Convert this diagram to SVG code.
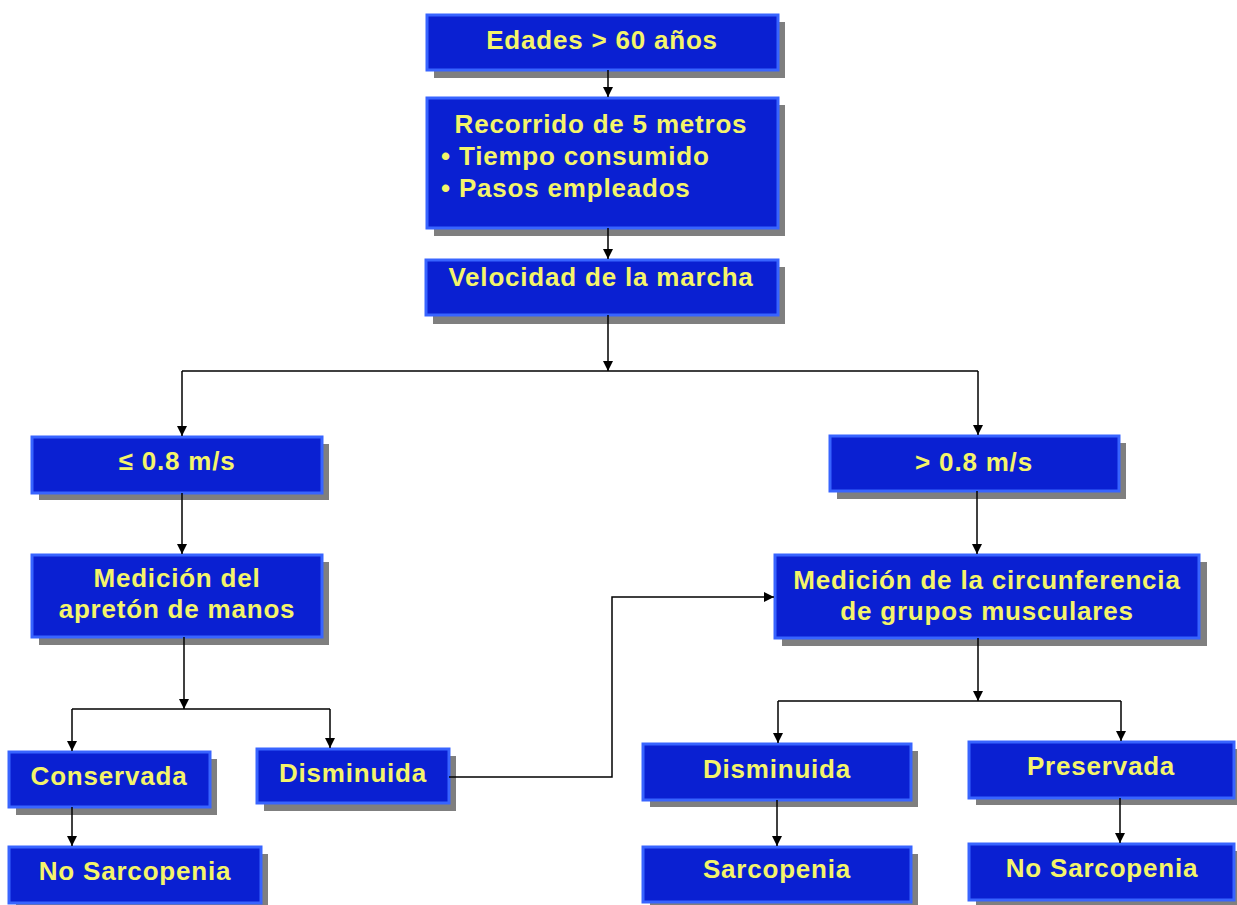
<svg xmlns="http://www.w3.org/2000/svg" width="1237" height="905" viewBox="0 0 1237 905">
<style>
.sh{fill:#7f7f7f}
.bx{fill:#0a20d2;stroke:#3864ff;stroke-width:3}
.t{font-family:"Liberation Sans",Arial,sans-serif;font-weight:bold;font-size:26px;fill:#f4f46a;letter-spacing:0.8px;text-anchor:middle}
.l{text-anchor:start}
.c{fill:none;stroke:#000;stroke-width:1.5}
</style>
<defs>
<marker id="ah" markerUnits="userSpaceOnUse" markerWidth="10" markerHeight="10" refX="10" refY="5" orient="auto">
<path d="M0,0 L10,5 L0,10 z" fill="#000"/>
</marker>
</defs>
<rect width="1237" height="905" fill="#fff"/>
<g id="n1">
<rect class="sh" x="434" y="22" width="351" height="56"/>
<rect class="bx" x="427" y="15" width="351" height="55"/>
<text class="t" x="602" y="49">Edades &gt; 60 años</text>
</g>
<g id="n2">
<rect class="sh" x="434" y="105" width="351" height="131"/>
<rect class="bx" x="427" y="98" width="351" height="130"/>
<text class="t" x="601" y="133">Recorrido de 5 metros</text>
<text class="t l" x="441" y="165">• Tiempo consumido</text>
<text class="t l" x="441" y="197">• Pasos empleados</text>
</g>
<g id="n3">
<rect class="sh" x="433" y="267" width="352" height="57"/>
<rect class="bx" x="426" y="260" width="352" height="55"/>
<text class="t" x="601" y="286">Velocidad de la marcha</text>
</g>
<g id="n4">
<rect class="sh" x="39" y="444" width="290" height="56"/>
<rect class="bx" x="32" y="437" width="290" height="56"/>
<text class="t" x="177" y="470">≤ 0.8 m/s</text>
</g>
<g id="n5">
<rect class="sh" x="837" y="443" width="289" height="56"/>
<rect class="bx" x="830" y="436" width="289" height="55"/>
<text class="t" x="974" y="471">&gt; 0.8 m/s</text>
</g>
<g id="n6">
<rect class="sh" x="39" y="562" width="290" height="83"/>
<rect class="bx" x="32" y="555" width="290" height="82"/>
<text class="t" x="177" y="587">Medición del</text>
<text class="t" x="177" y="618">apretón de manos</text>
</g>
<g id="n7">
<rect class="sh" x="782" y="562" width="425" height="84"/>
<rect class="bx" x="775" y="555" width="424" height="83"/>
<text class="t" x="987" y="589">Medición de la circunferencia</text>
<text class="t" x="987" y="620">de grupos musculares</text>
</g>
<g id="n8">
<rect class="sh" x="16" y="759" width="201" height="56"/>
<rect class="bx" x="9" y="752" width="201" height="55"/>
<text class="t" x="109" y="785">Conservada</text>
</g>
<g id="n9">
<rect class="sh" x="264" y="756" width="192" height="55"/>
<rect class="bx" x="257" y="749" width="192" height="54"/>
<text class="t" x="353" y="782">Disminuida</text>
</g>
<g id="n10">
<rect class="sh" x="16" y="854" width="252" height="56"/>
<rect class="bx" x="9" y="847" width="252" height="56"/>
<text class="t" x="135" y="880">No Sarcopenia</text>
</g>
<g id="n11">
<rect class="sh" x="650" y="751" width="268" height="56"/>
<rect class="bx" x="643" y="744" width="268" height="56"/>
<text class="t" x="777" y="778">Disminuida</text>
</g>
<g id="n12">
<rect class="sh" x="976" y="749" width="265" height="56"/>
<rect class="bx" x="969" y="742" width="265" height="56"/>
<text class="t" x="1101" y="775">Preservada</text>
</g>
<g id="n13">
<rect class="sh" x="650" y="854" width="268" height="56"/>
<rect class="bx" x="643" y="847" width="268" height="55"/>
<text class="t" x="777" y="878">Sarcopenia</text>
</g>
<g id="n14">
<rect class="sh" x="976" y="851" width="265" height="56"/>
<rect class="bx" x="969" y="844" width="265" height="56"/>
<text class="t" x="1102" y="877">No Sarcopenia</text>
</g>
<g id="connectors">
<path class="c" d="M608,70 V97" marker-end="url(#ah)"/>
<path class="c" d="M608,228 V259" marker-end="url(#ah)"/>
<path class="c" d="M608,315 V371" marker-end="url(#ah)"/>
<path class="c" d="M182,371 H978"/>
<path class="c" d="M182,371 V436" marker-end="url(#ah)"/>
<path class="c" d="M978,371 V435" marker-end="url(#ah)"/>
<path class="c" d="M182,493 V554" marker-end="url(#ah)"/>
<path class="c" d="M977,491 V554" marker-end="url(#ah)"/>
<path class="c" d="M184,637 V709" marker-end="url(#ah)"/>
<path class="c" d="M72,709 H330"/>
<path class="c" d="M72,709 V751" marker-end="url(#ah)"/>
<path class="c" d="M330,709 V748" marker-end="url(#ah)"/>
<path class="c" d="M72,807 V846" marker-end="url(#ah)"/>
<path class="c" d="M449,777 H612 V597 H774" marker-end="url(#ah)"/>
<path class="c" d="M978,638 V701" marker-end="url(#ah)"/>
<path class="c" d="M778,701 H1121"/>
<path class="c" d="M778,701 V743" marker-end="url(#ah)"/>
<path class="c" d="M1121,701 V741" marker-end="url(#ah)"/>
<path class="c" d="M777,800 V846" marker-end="url(#ah)"/>
<path class="c" d="M1120,798 V843" marker-end="url(#ah)"/>
</g>
</svg>
